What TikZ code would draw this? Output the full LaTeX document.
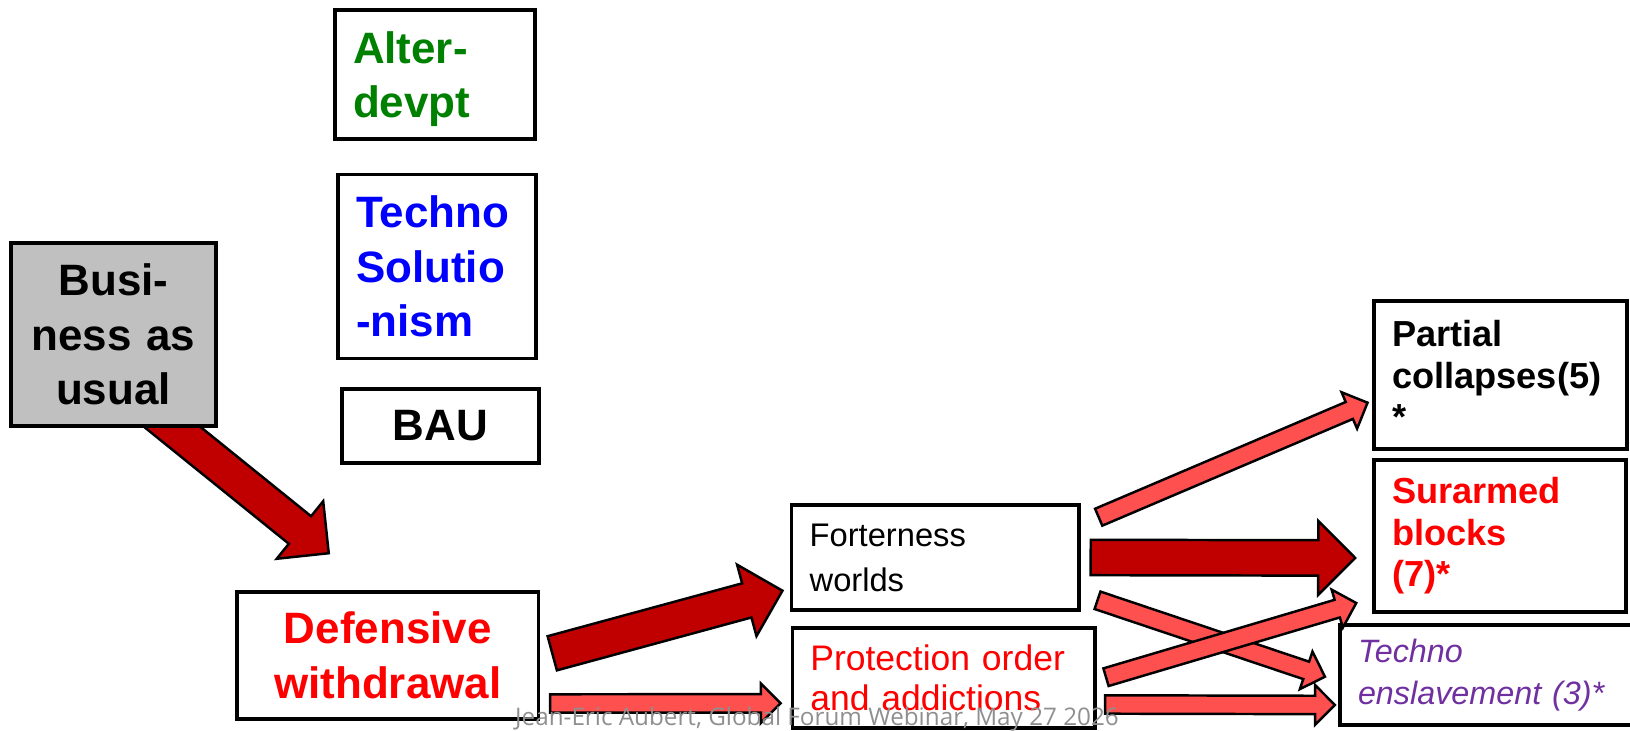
\documentclass[tikz,border=0pt]{standalone}
\usepackage{xcolor}
\usepackage{fontspec}
\usepackage{tikz}
\usetikzlibrary{calc,backgrounds}
\setmainfont{Liberation Sans}
\newfontfamily\footfont{Open Sans}

\definecolor{darkarrow}{HTML}{C00000}
\definecolor{lightarrow}{HTML}{FF5050}
\definecolor{bizgray}{HTML}{C0C0C0}
\definecolor{altergreen}{HTML}{008000}
\definecolor{technoblue}{HTML}{0000FF}
\definecolor{slavepurple}{HTML}{7030A0}
\definecolor{footgray}{HTML}{8F8F8F}

\newcommand{\fatarrow}[6]{%
  \coordinate (fa-h) at ($(#3)!#6!(#2)$);
  \draw[#1] ($(#2)!#4!90:(#3)$) -- ($(fa-h)!#4!90:(#3)$) -- ($(fa-h)!#5!90:(#3)$) -- (#3)
    -- ($(fa-h)!#5!-90:(#3)$) -- ($(fa-h)!#4!-90:(#3)$) -- ($(#2)!#4!-90:(#3)$) -- cycle;}
\newcommand{\bigarrow}[2]{\fatarrow{fill=darkarrow,draw=black,line width=0.7pt}{#1}{#2}{0.177cm}{0.37cm}{0.37cm}}
\newcommand{\thinarrow}[2]{\fatarrow{fill=lightarrow,draw=black,line width=0.7pt}{#1}{#2}{0.092cm}{0.198cm}{0.198cm}}

\tikzset{
  box/.style={draw, line width=1pt, inner xsep=0.18cm, inner ysep=0pt, align=left},
  bigbold/.style={font=\bfseries\fontsize{12.5}{15.5}\selectfont},
  smallbold/.style={font=\bfseries\fontsize{10.3}{11.8}\selectfont}
}

\begin{document}
\begin{tikzpicture}
  \useasboundingbox (0,0) rectangle (16.3,-7.31);

  \node[box, bigbold, text=altergreen, text width=1.64cm, minimum height=1.29cm] (alter) at (4.35,-0.745) {\rule{0pt}{11.7pt}Alter-\\devpt};
  \node[box, bigbold, text=technoblue, text width=1.62cm, minimum height=1.84cm] (techno) at (4.37,-2.665) {Techno\\Solutio\\-nism};
  \node[box, bigbold, align=center, text width=1.61cm, minimum height=0.74cm] (bau) at (4.405,-4.26) {BAU};
  \node[box, bigbold, align=center, fill=bizgray, text width=1.69cm, minimum height=1.83cm] (busi) at (1.135,-3.345) {Busi-\\ness as\\usual};
  \node[box, bigbold, align=center, text=red, text width=2.655cm, minimum height=1.27cm] (def) at (3.8775,-6.555) {Defensive\\withdrawal};

  \node[box, font=\fontsize{9.3}{12.8}\selectfont, text width=2.513cm, minimum height=1.05cm] (fort) at (9.353,-5.575) {Forterness\\worlds};
  \node[box, text=red, font=\fontsize{10.1}{11.4}\selectfont, text width=2.667cm, minimum height=1.0cm] (prot) at (9.437,-6.78) {Protection order\\and addictions};

  \node[box, smallbold, text width=2.17cm, minimum height=1.48cm] (part) at (15.005,-3.75) {Partial\\collapses(5)\\{*}};
  \node[box, smallbold, text=red, text width=2.16cm, minimum height=1.52cm] (sur) at (15.0,-5.36) {Surarmed\\blocks\\(7)*};
  \node[box, text=slavepurple, font=\itshape\fontsize{9.2}{11.8}\selectfont, text width=2.64cm, minimum height=1.0cm] (ensl) at (14.9,-6.75) {Techno\\enslavement (3)*};

  \coordinate (a1s) at ($(busi.south)+(0.295,0.245)$);
  \coordinate (a1e) at ($(def.north)+(-0.59,0.37)$);
  \coordinate (a2s) at ($(def.east)+(0.12,0.022)$);
  \coordinate (a2e) at ($(fort.west)+(-0.074,-0.332)$);
  \coordinate (a3s) at ($(def.east)+(0.098,-0.48)$);
  \coordinate (a3e) at ($(prot.west)+(-0.1,-0.253)$);
  \coordinate (a4s) at ($(fort.east)+(0.18,0.403)$);
  \coordinate (a4e) at ($(part.west)+(-0.047,-0.277)$);
  \coordinate (a5s) at ($(fort.east)+(0.1,0)$);
  \coordinate (a5e) at ($(sur.west)+(-0.17,-0.22)$);
  \coordinate (a6s) at ($(fort.east)+(0.168,-0.428)$);
  \coordinate (a6e) at ($(ensl.west)+(-0.133,-0.017)$);
  \coordinate (a7s) at ($(prot.east)+(0.092,0.008)$);
  \coordinate (a7e) at ($(sur.west)+(-0.16,-0.67)$);
  \coordinate (a8s) at ($(prot.east)+(0.083,-0.265)$);
  \coordinate (a8e) at ($(ensl.west)+(-0.033,-0.3)$);

  \begin{scope}[on background layer]
    \bigarrow{a1s}{a1e}
  \end{scope}
  \bigarrow{a2s}{a2e}
  \thinarrow{a3s}{a3e}
  \thinarrow{a4s}{a4e}
  \bigarrow{a5s}{a5e}
  \thinarrow{a6s}{a6e}
  \thinarrow{a7s}{a7e}
  \thinarrow{a8s}{a8e}

  \node[font=\footfont\fontsize{6.9}{8}\selectfont, text=footgray, anchor=base, inner sep=0pt] (foot) at (8.17,-7.255) {Jean-Eric Aubert, Global Forum Webinar, May 27 2026};
\end{tikzpicture}
\end{document}
